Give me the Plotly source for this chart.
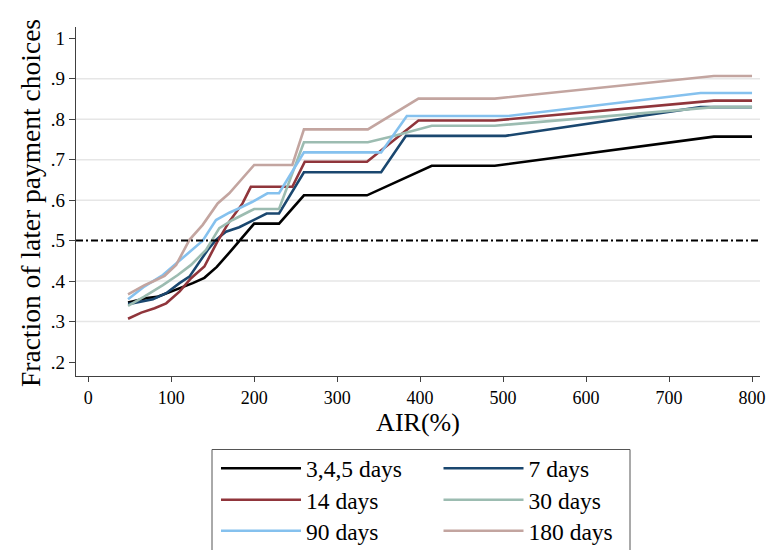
import plotly.graph_objects as go

# ---- data ----
series_names = ["3,4,5 days", "7 days", "14 days", "30 days", "90 days", "180 days"]

air_345 = [48, 71, 83, 96, 110, 126, 140, 155, 173, 200, 230, 260, 336, 414, 490, 754, 800]
frac_345 = [0.347, 0.358, 0.361, 0.371, 0.381, 0.395, 0.408, 0.435, 0.477, 0.542, 0.542,
            0.612, 0.612, 0.685, 0.685, 0.757, 0.757]

air_7 = [48, 78, 94, 110, 122, 144, 154, 166, 182, 200, 215, 230, 260, 353, 383, 503, 738, 800]
frac_7 = [0.343, 0.355, 0.370, 0.395, 0.411, 0.477, 0.502, 0.522, 0.533, 0.551, 0.567, 0.567,
          0.669, 0.669, 0.759, 0.759, 0.830, 0.830]

air_14 = [48, 64, 80, 94, 110, 124, 140, 155, 170, 186, 196, 246, 261, 336, 398, 490, 754, 800]
frac_14 = [0.307, 0.322, 0.333, 0.345, 0.374, 0.407, 0.436, 0.495, 0.547, 0.592, 0.633, 0.633,
           0.695, 0.695, 0.797, 0.797, 0.846, 0.846]

air_30 = [48, 68, 90, 108, 124, 142, 158, 174, 194, 200, 230, 260, 337, 367, 414, 490, 754, 800]
frac_30 = [0.339, 0.362, 0.390, 0.415, 0.440, 0.477, 0.531, 0.551, 0.572, 0.578, 0.578, 0.743,
           0.743, 0.758, 0.784, 0.784, 0.830, 0.830]

air_90 = [48, 68, 90, 106, 124, 138, 154, 170, 182, 198, 216, 230, 260, 353, 384, 506, 738, 800]
frac_90 = [0.355, 0.387, 0.415, 0.444, 0.477, 0.500, 0.551, 0.569, 0.580, 0.596, 0.617, 0.617,
           0.718, 0.718, 0.808, 0.808, 0.865, 0.865]

air_180 = [48, 68, 78, 92, 106, 122, 138, 156, 170, 184, 200, 246, 260, 337, 398, 490, 754, 800]
frac_180 = [0.367, 0.390, 0.399, 0.413, 0.440, 0.502, 0.539, 0.592, 0.617, 0.650, 0.687, 0.687,
            0.775, 0.775, 0.851, 0.851, 0.907, 0.907]

threshold = 0.5

x_ticks = [0, 100, 200, 300, 400, 500, 600, 700, 800]
x_tick_labels = ["0", "100", "200", "300", "400", "500", "600", "700", "800"]
y_ticks = [0.2, 0.3, 0.4, 0.5, 0.6, 0.7, 0.8, 0.9, 1.0]
y_tick_labels = [".2", ".3", ".4", ".5", ".6", ".7", ".8", ".9", "1"]
grid_vals = [0.3, 0.4, 0.6, 0.7, 0.8, 0.9]

x_title = "AIR(%)"
y_title = "Fraction of later payment choices"

# ---- styling ----
colors = ["#000000", "#1a476f", "#90353b", "#9cbcb1", "#85c1ee", "#c3a5a0"]
FONT = "Liberation Serif, Times New Roman, serif"

W, H = 766, 550
ML, MR, MT, MB = 76, 6, 27, 174
PW, PH = W - ML - MR, H - MT - MB

# legend layout: two columns x three rows (pixel positions of each entry)
leg_col_left = [216, 438.5]
leg_row_center = [469.5, 501, 532]
LEG_FONT = 23.5
LEG_ITEMW = 80


def px_to_paper_x(px):
    return (px - ML) / PW


def px_to_paper_y(py):
    return (H - MB - py) / PH


xs = [air_345, air_7, air_14, air_30, air_90, air_180]
ys = [frac_345, frac_7, frac_14, frac_30, frac_90, frac_180]

fig = go.Figure()

legend_layouts = {}
for i, (name, x, y, c) in enumerate(zip(series_names, xs, ys, colors)):
    lg = "legend" if i == 0 else f"legend{i + 1}"
    col, row = i % 2, i // 2
    fig.add_trace(go.Scatter(x=x, y=y, mode="lines", name=name, showlegend=True,
                             line=dict(color=c, width=2.6), legend=lg))
    legend_layouts[lg] = dict(
        xref="container", yref="container",
        x=leg_col_left[col] / W, y=1 - (leg_row_center[row] - 23) / H,
        xanchor="left", yanchor="top", orientation="v",
        borderwidth=0, bgcolor="rgba(0,0,0,0)",
        itemwidth=LEG_ITEMW, font=dict(size=LEG_FONT, family=FONT))

for g in grid_vals:
    fig.add_hline(y=g, layer="below", line=dict(color="#e6e6e6", width=1.5))

fig.add_hline(y=threshold, line=dict(color="black", width=2, dash="7px,3px,2px,3px"))

# legend frame
fig.add_shape(type="rect", xref="paper", yref="paper",
              x0=px_to_paper_x(212), x1=px_to_paper_x(630),
              y0=px_to_paper_y(449.5), y1=px_to_paper_y(565),
              line=dict(color="#555555", width=1), fillcolor="rgba(0,0,0,0)")

# y-axis title
fig.add_annotation(text=y_title, xref="paper", yref="paper",
                   x=px_to_paper_x(30), y=px_to_paper_y(203),
                   xanchor="center", yanchor="middle", textangle=-90,
                   showarrow=False, font=dict(size=27.5, family=FONT, color="black"))

yrange = [0.1654, 1.028]
fig.update_layout(
    width=W, height=H,
    showlegend=True,
    margin=dict(l=ML, r=MR, t=MT, b=MB, autoexpand=False),
    paper_bgcolor="white", plot_bgcolor="white",
    font=dict(family=FONT, color="black", size=18),
    xaxis=dict(range=[-14.7, 809.6], tickvals=x_ticks, ticktext=x_tick_labels,
               showgrid=False, zeroline=False, showline=True, linecolor="#404040",
               linewidth=1.2, ticks="outside", ticklen=5, tickcolor="#404040",
               tickfont=dict(size=18), ticklabeloverflow="allow",
               title=dict(text=x_title, font=dict(size=26), standoff=2)),
    yaxis=dict(range=yrange, tickvals=y_ticks, ticktext=y_tick_labels,
               showgrid=False, zeroline=False, showline=True, linecolor="#404040",
               linewidth=1.2, ticks="outside", ticklen=6, tickcolor="#404040",
               tickfont=dict(size=19)),
    **legend_layouts,
)

fig.write_html("out.html")
